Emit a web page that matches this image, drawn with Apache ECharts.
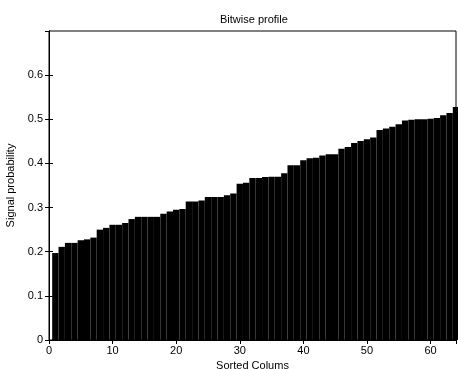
<!DOCTYPE html>
<html>
<head>
<meta charset="utf-8">
<script src="https://cdn.jsdelivr.net/npm/echarts@6/dist/echarts.min.js"></script>
<style>
  html, body { margin: 0; padding: 0; background: #fff; }
  #bitwise-chart { width: 458px; height: 369px; }
</style>
</head>
<body>
<div id="bitwise-chart"></div>
<script>
// sorted signal probability of every column (64 columns)
var signalProb = [
  0.197, 0.211, 0.220, 0.220, 0.226, 0.228, 0.232, 0.250,
  0.254, 0.261, 0.261, 0.265, 0.274, 0.279, 0.279, 0.279,
  0.279, 0.286, 0.291, 0.295, 0.297, 0.314, 0.314, 0.316,
  0.324, 0.324, 0.324, 0.328, 0.332, 0.354, 0.356, 0.367,
  0.367, 0.369, 0.370, 0.370, 0.378, 0.396, 0.396, 0.407,
  0.412, 0.413, 0.418, 0.421, 0.421, 0.433, 0.437, 0.446,
  0.451, 0.455, 0.459, 0.476, 0.479, 0.483, 0.489, 0.497,
  0.499, 0.500, 0.500, 0.501, 0.503, 0.509, 0.514, 0.528
];
var xTicks = [0, 10, 20, 30, 40, 50, 60];
var yTicks = [0, 0.1, 0.2, 0.3, 0.4, 0.5, 0.6];

var chart = echarts.init(document.getElementById('bitwise-chart'));

var font = 'Liberation Sans, Arial, sans-serif';
var gridLeft = 49, gridRight = 2;
// one column = one unit of the x axis
var colWidth = (458 - gridLeft - gridRight) / 64;

function yLabel(v) {
  var r = Math.round(v * 10) / 10;
  if (yTicks.indexOf(r) < 0) return '';
  return r === 0 ? '0' : r.toFixed(1);
}
function xLabel(v) {
  return xTicks.indexOf(v) < 0 ? '' : String(v);
}

var tickStyle = { show: true, inside: true, length: 4, lineStyle: { color: '#000', width: 1 } };
var lineStyle = { show: true, lineStyle: { color: '#000', width: 1 } };

chart.setOption({
  animation: false,
  backgroundColor: '#fff',
  title: {
    text: 'Bitwise profile',
    left: 215,
    top: 9,
    textStyle: { fontFamily: font, fontSize: 11, fontWeight: 'normal', color: '#000' }
  },
  grid: {
    left: gridLeft,
    right: gridRight,
    top: 31,
    bottom: 29,
    outerBoundsMode: 'none',
    show: true,
    borderColor: '#000',
    borderWidth: 1
  },
  xAxis: [{
    type: 'value',
    min: 0,
    max: 64,
    interval: 10,
    name: 'Sorted Colums',
    nameLocation: 'middle',
    nameGap: 18,
    nameTextStyle: { fontFamily: font, fontSize: 11, color: '#000' },
    axisLine: lineStyle,
    axisTick: tickStyle,
    splitLine: { show: false },
    axisLabel: {
      fontFamily: font, fontSize: 11, color: '#000', margin: 5,
      showMaxLabel: false, formatter: xLabel
    }
  }, {
    type: 'value',
    position: 'top',
    min: 0,
    max: 64,
    interval: 10,
    axisLine: lineStyle,
    axisTick: tickStyle,
    splitLine: { show: false },
    axisLabel: { show: false }
  }],
  yAxis: [{
    type: 'value',
    min: 0,
    max: 0.7,
    interval: 0.1,
    name: 'Signal probability',
    nameLocation: 'middle',
    nameGap: 25,
    nameTextStyle: { fontFamily: font, fontSize: 11, color: '#000' },
    axisLine: lineStyle,
    axisTick: tickStyle,
    splitLine: { show: false },
    axisLabel: {
      fontFamily: font, fontSize: 11, color: '#000', margin: 6,
      showMaxLabel: false, formatter: yLabel
    }
  }, {
    type: 'value',
    position: 'right',
    min: 0,
    max: 0.7,
    interval: 0.1,
    axisLine: lineStyle,
    axisTick: tickStyle,
    splitLine: { show: false },
    axisLabel: { show: false }
  }],
  series: [{
    type: 'bar',
    xAxisIndex: 0,
    yAxisIndex: 0,
    barWidth: colWidth,
    clip: true,
    itemStyle: { color: '#000' },
    data: signalProb.map(function (v, i) { return [i + 1, v]; })
  }]
});
</script>
</body>
</html>
